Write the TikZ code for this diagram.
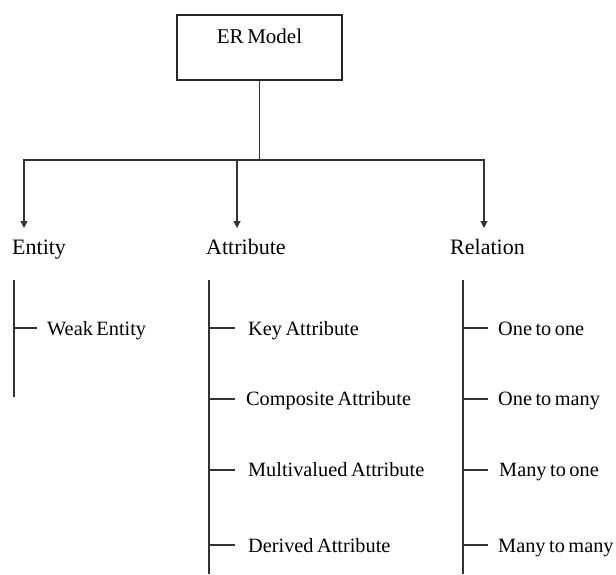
\documentclass[tikz,border=0pt]{standalone}
\usepackage{fontspec}
\setmainfont{Liberation Serif}[WordSpace=0.7]
\usetikzlibrary{arrows.meta}
\begin{document}
\begin{tikzpicture}[x=1pt,y=-1pt,
  line/.style={draw=black!80,line width=1.1pt},
  arrowline/.style={line,-{Triangle[length=7pt,width=7pt]}},
  rootbox/.style={draw=black!85,line width=1.2pt,minimum width=165pt,inner sep=0pt,
    text height=28pt,text depth=37pt,font=\fontsize{21}{24}\selectfont},
  heading/.style={anchor=base west,inner sep=0pt,font=\fontsize{22}{26}\selectfont},
  leaf/.style={anchor=base west,inner sep=0pt,font=\fontsize{20.3}{24}\selectfont}]
\useasboundingbox (0,0) rectangle (616,574);

% root of the tree
\node[rootbox] (root) at (259.5,47.5) {ER Model};
\coordinate (hub) at (259.5,160);
\coordinate (busA) at (237,160);
\coordinate (tipE) at (24,228);
\coordinate (tipA) at (237,228);
\coordinate (tipR) at (484,228);

\draw[line] (root.south) -- (hub);
\draw[arrowline] (hub) -| (tipE);
\draw[arrowline] (hub) -| (tipR);
\draw[arrowline] (busA) -- (tipA);

% three categories
\node[heading] (entity) at (12,254) {Entity};
\node[heading] (attr) at (206,254) {Attribute};
\node[heading] (rel) at (450,254) {Relation};

% Entity branch
\coordinate (eTop) at (14,280);
\coordinate (eBot) at (14,397);
\draw[line] (eTop) -- (eBot);
\node[leaf] (weak) at (47,335) {Weak Entity};
\draw[line] (14,328) coordinate (eT1) -- (37,328) coordinate (eE1);

% Attribute branch
\coordinate (aTop) at (209,280);
\coordinate (aBot) at (209,574);
\draw[line] (aTop) -- (aBot);
\node[leaf] (key) at (248,335) {Key Attribute};
\node[leaf] (comp) at (246,405) {Composite Attribute};
\node[leaf] (multi) at (248,476) {Multivalued Attribute};
\node[leaf] (der) at (248,552) {Derived Attribute};
\foreach \yy in {328,399,470,545}
  \draw[line] (aTop |- 0,\yy) -- (235,\yy);

% Relation branch
\coordinate (rTop) at (463,280);
\coordinate (rBot) at (463,574);
\draw[line] (rTop) -- (rBot);
\node[leaf] (oo) at (498,335) {One to one};
\node[leaf] (om) at (498,405) {One to many};
\node[leaf] (mo) at (499,476) {Many to one};
\node[leaf] (mm) at (498,552) {Many to many};
\foreach \yy in {328,399,470,545}
  \draw[line] (rTop |- 0,\yy) -- (488,\yy);
\end{tikzpicture}
\end{document}
